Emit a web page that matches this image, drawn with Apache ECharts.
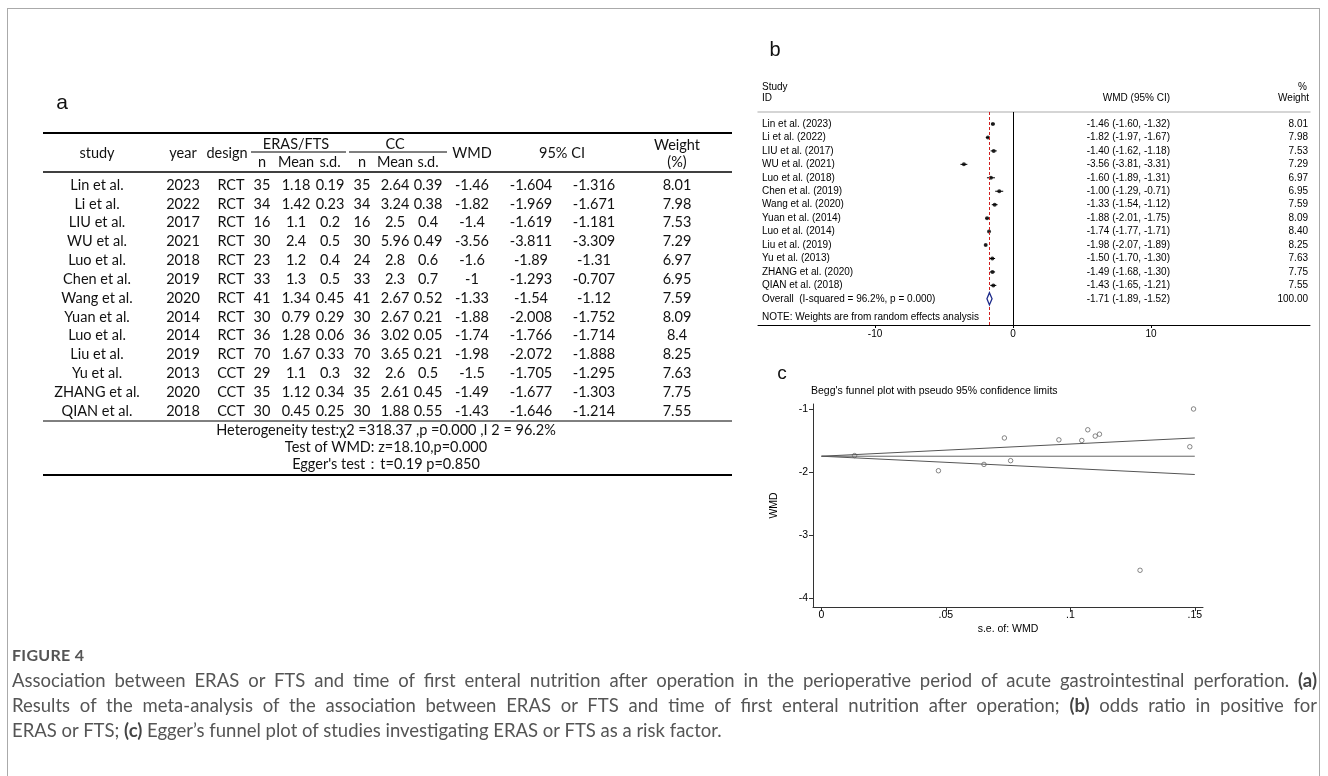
<!DOCTYPE html>
<html>
<head>
<meta charset="utf-8">
<script src="https://cdn.jsdelivr.net/npm/echarts@6/dist/echarts.min.js"></script>
<style>
  html, body { margin: 0; padding: 0; background: #fff; overflow: hidden; }
  #frame { position: absolute; left: 7px; top: 8px; width: 1313px; height: 800px; border: 1px solid #aaa; box-sizing: border-box; }
  #chart { position: absolute; left: 0; top: 0; width: 1328px; height: 776px; }
  .cap { position: absolute; left: 12px; width: 1305px; font-family: Lato, "Open Sans", sans-serif; color: #555; white-space: nowrap; }
  .fig { top: 645px; font-size: 16px; font-weight: 700; letter-spacing: 0.3px; }
  .line { font-size: 18.5px; line-height: 25px; }
  .just { text-align: justify; text-align-last: justify; }
  .cap b { color: #444; }
</style>
</head>
<body>
<div id="frame"></div>
<div id="chart"></div>
<div class="cap fig">FIGURE 4</div>
<div class="cap line just" style="top:668px">Association between ERAS or FTS and time of first enteral nutrition after operation in the perioperative period of acute gastrointestinal perforation. <b>(a)</b></div>
<div class="cap line just" style="top:693px">Results of the meta-analysis of the association between ERAS or FTS and time of first enteral nutrition after operation; <b>(b)</b> odds ratio in positive for</div>
<div class="cap line" style="top:718px">ERAS or FTS; <b>(c)</b> Egger’s funnel plot of studies investigating ERAS or FTS as a risk factor.</div>
<script>
// ---------------- DATA ----------------
// (a) table
const studies   = ['Lin et al.','Li et al.','LIU et al.','WU et al.','Luo et al.','Chen et al.','Wang et al.','Yuan et al.','Luo et al.','Liu et al.','Yu et al.','ZHANG et al.','QIAN et al.'];
const years     = [2023, 2022, 2017, 2021, 2018, 2019, 2020, 2014, 2014, 2019, 2013, 2020, 2018];
const designs   = ['RCT','RCT','RCT','RCT','RCT','RCT','RCT','RCT','RCT','RCT','CCT','CCT','CCT'];
const erasN     = [35, 34, 16, 30, 23, 33, 41, 30, 36, 70, 29, 35, 30];
const erasMean  = [1.18, 1.42, 1.1, 2.4, 1.2, 1.3, 1.34, 0.79, 1.28, 1.67, 1.1, 1.12, 0.45];
const erasSD    = [0.19, 0.23, 0.2, 0.5, 0.4, 0.5, 0.45, 0.29, 0.06, 0.33, 0.3, 0.34, 0.25];
const ccN       = [35, 34, 16, 30, 24, 33, 41, 30, 36, 70, 32, 35, 30];
const ccMean    = [2.64, 3.24, 2.5, 5.96, 2.8, 2.3, 2.67, 2.67, 3.02, 3.65, 2.6, 2.61, 1.88];
const ccSD      = [0.39, 0.38, 0.4, 0.49, 0.6, 0.7, 0.52, 0.21, 0.05, 0.21, 0.5, 0.45, 0.55];
const tableWMD  = [-1.46, -1.82, -1.4, -3.56, -1.6, -1, -1.33, -1.88, -1.74, -1.98, -1.5, -1.49, -1.43];
const ciLow     = [-1.604, -1.969, -1.619, -3.811, -1.89, -1.293, -1.54, -2.008, -1.766, -2.072, -1.705, -1.677, -1.646];
const ciHigh    = [-1.316, -1.671, -1.181, -3.309, -1.31, -0.707, -1.12, -1.752, -1.714, -1.888, -1.295, -1.303, -1.214];
const tableWeight = [8.01, 7.98, 7.53, 7.29, 6.97, 6.95, 7.59, 8.09, 8.4, 8.25, 7.63, 7.75, 7.55];
const tableFooter = ['Heterogeneity test:χ2 =318.37 ,p =0.000 ,I 2 = 96.2%', 'Test of WMD: z=18.10,p=0.000', 'Egger\'s test：t=0.19 p=0.850'];

// (b) forest plot
const forestWMD  = [-1.46, -1.82, -1.40, -3.56, -1.60, -1.00, -1.33, -1.88, -1.74, -1.98, -1.50, -1.49, -1.43];
const forestLo   = [-1.60, -1.97, -1.62, -3.81, -1.89, -1.29, -1.54, -2.01, -1.77, -2.07, -1.70, -1.68, -1.65];
const forestHi   = [-1.32, -1.67, -1.18, -3.31, -1.31, -0.71, -1.12, -1.75, -1.71, -1.89, -1.30, -1.30, -1.21];
const forestWeight = ['8.01','7.98','7.53','7.29','6.97','6.95','7.59','8.09','8.40','8.25','7.63','7.75','7.55'];
const overall    = { wmd: -1.71, lo: -1.89, hi: -1.52, weight: '100.00', label: 'Overall  (I-squared = 96.2%, p = 0.000)' };
const forestNote = 'NOTE: Weights are from random effects analysis';
const forestTicks = [-10, 0, 10];

// (c) funnel plot
const funnelSE  = [0.0735, 0.076, 0.1117, 0.128, 0.148, 0.1495, 0.107, 0.0653, 0.0133, 0.047, 0.1046, 0.0954, 0.110];
const funnelWMD = [-1.46, -1.82, -1.40, -3.56, -1.60, -1.00, -1.33, -1.88, -1.74, -1.98, -1.50, -1.49, -1.43];
const funnelCenter = [[0, -1.75], [0.15, -1.75]];
const funnelUpper  = [[0, -1.75], [0.15, -1.46]];
const funnelLower  = [[0, -1.75], [0.15, -2.04]];
const funnelYTicks = [-1, -2, -3, -4];
const funnelXTicks = [0, 0.05, 0.1, 0.15];

// ---------------- LAYOUT / STYLE ----------------
const TFONT = 'Lato, "Open Sans", sans-serif';
const SFONT = '"Liberation Sans", Arial, sans-serif';
const colX = [97, 183, 231, 262, 296, 330, 362, 395, 428, 472, 531, 594, 677];
const rowY0 = 185, rowH = 18.85;

const g = [];
function txt(t, x, y, size, opts) {
  opts = opts || {};
  g.push({ type: 'text', silent: true, z: 10, style: {
    text: String(t), x: x, y: y, fill: opts.fill || '#111',
    font: (opts.weight || 'normal') + ' ' + size + 'px ' + (opts.family || TFONT),
    align: opts.align || 'center', verticalAlign: 'middle'
  }});
}
function ln(x1, y1, x2, y2, w, c) {
  g.push({ type: 'line', silent: true, z: 10, shape: { x1: x1, y1: y1, x2: x2, y2: y2 }, style: { stroke: c || '#000', lineWidth: w } });
}

// panel labels
txt('a', 62, 103, 21, { family: SFONT });
txt('b', 775, 50, 20, { family: SFONT });
txt('c', 782, 374, 19, { family: SFONT });

// table rules
ln(43, 133, 732, 133, 2);
ln(251, 152, 346, 152, 1);
ln(349, 152, 447, 152, 1);
ln(43, 172, 732, 172, 1.5);
ln(43, 421, 732, 421, 1);
ln(43, 475, 732, 475, 2);

// table header
const TS = 14.5;
txt('study', colX[0], 153, TS); txt('year', colX[1], 153, TS); txt('design', 227, 153, TS);
txt('ERAS/FTS', colX[4], 144, TS); txt('CC', colX[7], 144, TS);
txt('n', colX[3], 162, TS); txt('Mean', colX[4], 162, TS); txt('s.d.', colX[5], 162, TS);
txt('n', colX[6], 162, TS); txt('Mean', colX[7], 162, TS); txt('s.d.', colX[8], 162, TS);
txt('WMD', colX[9], 153, TS); txt('95% CI', 562, 153, TS);
txt('Weight', colX[12], 145, TS); txt('(%)', colX[12], 162, TS);

// table body
const cols = [studies, years, designs, erasN, erasMean, erasSD, ccN, ccMean, ccSD, tableWMD, ciLow, ciHigh, tableWeight];
for (let i = 0; i < studies.length; i++) {
  cols.forEach((c, j) => txt(c[i], colX[j], rowY0 + i * rowH, TS));
}
tableFooter.forEach((t, k) => txt(t, 386, 430 + k * 17, TS));

// forest header texts
const FS = 10;
txt('Study', 762, 87, FS, { family: SFONT, align: 'left', fill: '#000' });
txt('ID', 762, 98, FS, { family: SFONT, align: 'left', fill: '#000' });
txt('%', 1307, 87, FS, { family: SFONT, align: 'right', fill: '#000' });
txt('WMD (95% CI)', 1170, 98, FS, { family: SFONT, align: 'right', fill: '#000' });
txt('Weight', 1309, 98, FS, { family: SFONT, align: 'right', fill: '#000' });

// funnel title
txt('Begg\'s funnel plot with pseudo 95% confidence limits', 811, 391, 10.5, { family: SFONT, align: 'left', fill: '#000' });

// ---------------- FOREST AXIS ROWS ----------------
const rows = studies.map((s, i) => i + 1);
const overallRow = studies.length + 1;
const noteRow = 15.35;
const leftLabels = {}, ciLabels = {}, wLabels = {};
rows.forEach((r, i) => {
  leftLabels[r] = studies[i] + ' (' + years[i] + ')';
  ciLabels[r] = forestWMD[i].toFixed(2) + ' (' + forestLo[i].toFixed(2) + ', ' + forestHi[i].toFixed(2) + ')';
  wLabels[r] = forestWeight[i];
});
leftLabels[overallRow] = overall.label;
ciLabels[overallRow] = overall.wmd.toFixed(2) + ' (' + overall.lo.toFixed(2) + ', ' + overall.hi.toFixed(2) + ')';
wLabels[overallRow] = overall.weight;
leftLabels[noteRow] = forestNote;
const labelRows = rows.concat([overallRow, noteRow]);
const valRows = rows.concat([overallRow]);

const fyMin = 0.108, fyMax = 15.945;
const fyBase = { gridIndex: 0, type: 'value', inverse: true, min: fyMin, max: fyMax,
  axisLine: { show: false }, axisTick: { show: false }, splitLine: { show: false } };
const lblStyle = { fontSize: FS, fontFamily: SFONT, color: '#000' };
const fnStyle = { fontSize: 10.5, fontFamily: SFONT, color: '#000' };

const chart = echarts.init(document.getElementById('chart'), null, { width: 1328, height: 776, renderer: 'canvas' });
chart.setOption({
  animation: false,
  backgroundColor: 'transparent',
  grid: [
    { left: 758, top: 112, width: 552, height: 213 },
    { left: 813, top: 404, width: 390, height: 203 }
  ],
  xAxis: [
    { gridIndex: 0, type: 'value', position: 'bottom', min: -18.48, max: 21.52,
      axisLine: { lineStyle: { color: '#000', width: 1 } },
      axisTick: { customValues: forestTicks, length: 3, lineStyle: { color: '#000' } },
      axisLabel: Object.assign({ customValues: forestTicks, margin: 4 }, lblStyle),
      splitLine: { show: false } },
    { gridIndex: 0, type: 'value', position: 'top', min: -18.48, max: 21.52,
      axisLine: { lineStyle: { color: '#c8c8c8', width: 1.5 } },
      axisTick: { show: false }, axisLabel: { show: false }, splitLine: { show: false } },
    { gridIndex: 1, type: 'value', min: -0.0034, max: 0.1533,
      name: 's.e. of: WMD', nameLocation: 'middle', nameGap: 17,
      nameTextStyle: fnStyle,
      axisLine: { onZero: false, lineStyle: { color: '#333', width: 1 } },
      axisTick: { customValues: funnelXTicks, length: 4, lineStyle: { color: '#333' } },
      axisLabel: Object.assign({ customValues: funnelXTicks, margin: 3,
        formatter: v => v === 0 ? '0' : String(v).replace(/^0/, '') }, fnStyle),
      splitLine: { show: false } }
  ],
  yAxis: [
    Object.assign({}, fyBase, { position: 'left',
      axisLabel: Object.assign({ inside: true, margin: 4, customValues: labelRows, formatter: v => leftLabels[v] || '' }, lblStyle) }),
    Object.assign({}, fyBase, { position: 'right', offset: -140,
      axisLabel: Object.assign({ inside: true, margin: 0, customValues: valRows, formatter: v => ciLabels[v] || '' }, lblStyle) }),
    Object.assign({}, fyBase, { position: 'right', offset: -2,
      axisLabel: Object.assign({ inside: true, margin: 0, customValues: valRows, formatter: v => wLabels[v] || '' }, lblStyle) }),
    { gridIndex: 1, type: 'value', min: -4.143, max: -0.921,
      name: 'WMD', nameLocation: 'middle', nameGap: 33, nameRotate: 90,
      nameTextStyle: fnStyle,
      axisLine: { show: true, onZero: false, lineStyle: { color: '#333', width: 1 } },
      axisTick: { show: true, customValues: funnelYTicks, length: 4, lineStyle: { color: '#333' } },
      axisLabel: Object.assign({ customValues: funnelYTicks, margin: 5 }, fnStyle),
      splitLine: { show: false } }
  ],
  series: [
    { type: 'custom', xAxisIndex: 0, yAxisIndex: 0, silent: true,
      data: rows.map((r, i) => [forestLo[i], forestHi[i], r]),
      renderItem: (params, api) => {
        const a = api.coord([api.value(0), api.value(2)]);
        const b = api.coord([api.value(1), api.value(2)]);
        return { type: 'line', shape: { x1: a[0], y1: a[1], x2: b[0], y2: b[1] }, style: { stroke: '#000', lineWidth: 1 } };
      } },
    { type: 'scatter', xAxisIndex: 0, yAxisIndex: 0, silent: true, symbol: 'circle', symbolSize: 4,
      itemStyle: { color: '#000' },
      data: rows.map((r, i) => [forestWMD[i], r]),
      markLine: { silent: true, symbol: ['none', 'none'], label: { show: false },
        data: [
          { xAxis: 0, lineStyle: { color: '#000', width: 1, type: 'solid' } },
          { xAxis: overall.wmd, lineStyle: { color: '#d02020', width: 1, type: [3, 2] } }
        ] } },
    { type: 'custom', xAxisIndex: 0, yAxisIndex: 0, silent: true, z: 5,
      data: [[overall.lo, overall.wmd, overall.hi, overallRow]],
      renderItem: (params, api) => {
        const r = api.value(3);
        const p = [api.coord([api.value(0), r]), api.coord([api.value(1), r - 0.45]),
                   api.coord([api.value(2), r]), api.coord([api.value(1), r + 0.45])];
        return { type: 'polygon', shape: { points: p }, style: { fill: '#fff', stroke: '#1c2a8a', lineWidth: 1.3 } };
      } },
    { type: 'line', xAxisIndex: 2, yAxisIndex: 3, silent: true, symbol: 'none', data: funnelCenter, lineStyle: { color: '#666', width: 1 } },
    { type: 'line', xAxisIndex: 2, yAxisIndex: 3, silent: true, symbol: 'none', data: funnelUpper, lineStyle: { color: '#555', width: 1 } },
    { type: 'line', xAxisIndex: 2, yAxisIndex: 3, silent: true, symbol: 'none', data: funnelLower, lineStyle: { color: '#555', width: 1 } },
    { type: 'scatter', xAxisIndex: 2, yAxisIndex: 3, silent: true, symbol: 'circle', symbolSize: 4.5,
      itemStyle: { color: '#fff', borderColor: '#444', borderWidth: 0.8 },
      data: funnelSE.map((s, i) => [s, funnelWMD[i]]) }
  ],
  graphic: { elements: g }
});
</script>
</body>
</html>
